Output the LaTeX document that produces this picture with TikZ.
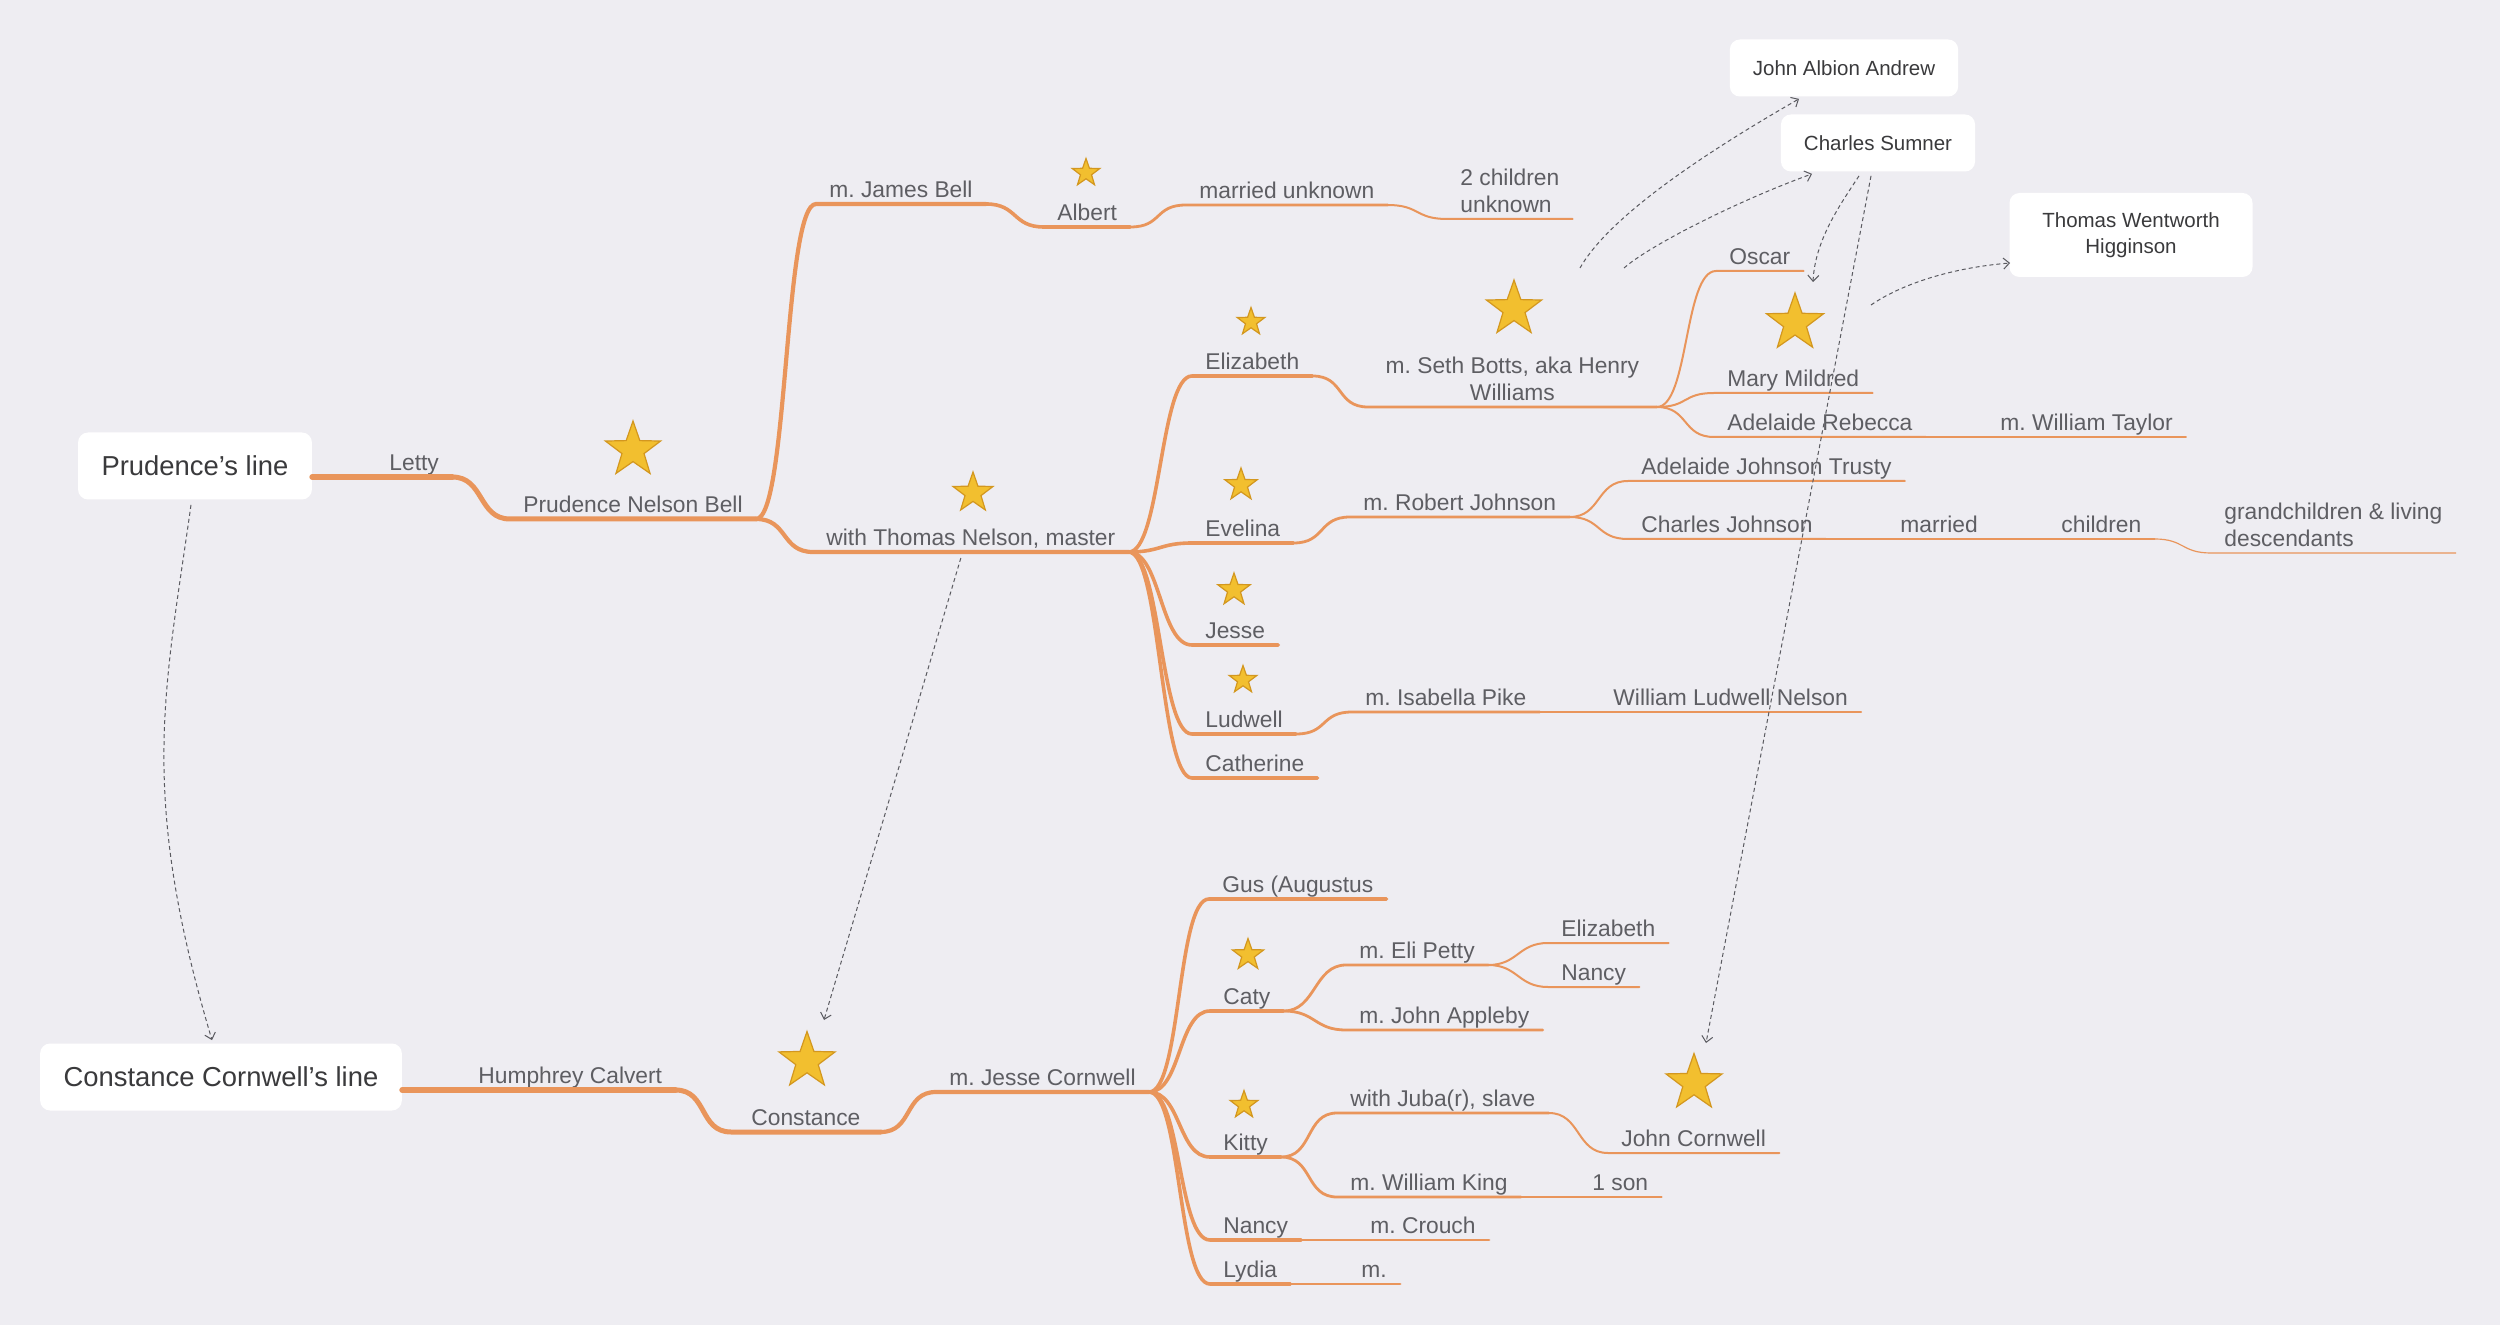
\documentclass[tikz,border=0pt]{standalone}
\usepackage{fontspec}
\setmainfont{Liberation Sans}
\usetikzlibrary{shapes.geometric,arrows.meta}
\frenchspacing

\definecolor{bgcol}{HTML}{EEEDF2}
\definecolor{branch}{HTML}{E9955B}
\definecolor{txt}{HTML}{5E5E63}
\definecolor{boxtxt}{HTML}{3A3A3C}
\definecolor{starfill}{HTML}{F2BF2F}
\definecolor{starline}{HTML}{D3971F}
\definecolor{xrefcol}{HTML}{5A5A60}

\tikzset{
  person/.style={text=txt, font=\fontsize{11.4}{13.75}\selectfont,
    inner xsep=6.5pt, inner ysep=3pt, text depth=0pt, anchor=south west},
  rootbox/.style={fill=white, rounded corners=5pt, text=boxtxt,
    font=\fontsize{13.7}{16}\selectfont, inner xsep=11.75pt, minimum height=33.5pt},
  namebox/.style={fill=white, rounded corners=5pt, text=boxtxt, align=center,
    font=\fontsize{10.25}{13}\selectfont, inner xsep=11.5pt, minimum height=28.5pt},
  starmark/.style={star, star points=5, star point ratio=2.5, inner sep=0pt,
    fill=starfill, draw=starline, line width=0.6pt},
  br/.style={draw=branch, line cap=round, line join=round},
  lvl1/.style={br, line width=3pt},
  lvl2/.style={br, line width=2.5pt},
  lvl3/.style={br, line width=2.1pt},
  lvl4/.style={br, line width=1.8pt},
  lvl5/.style={br, line width=1.4pt},
  lvl6/.style={br, line width=1pt},
  lvl7/.style={br, line width=0.8pt},
  lvl8/.style={br, line width=0.7pt},
  lvl9/.style={br, line width=0.6pt},
  xref/.style={draw=xrefcol, line width=0.5pt, dash pattern=on 2pt off 1.5pt,
    -{Straight Barb[length=3pt,width=5.5pt]}},
}

\begin{document}
\begin{tikzpicture}[x=0.5pt, y=-0.5pt]
  \fill[bgcol] (0,0) rectangle (2500,1325);
  \useasboundingbox (0,0) rectangle (2500,1325);

  % Boxes
  \node[rootbox] (prud) at (195,466) {Prudence’s line};
  \node[rootbox] (corn) at (221,1077) {Constance Cornwell’s line};
  \node[namebox] (andrew) at (1844,68) {John Albion Andrew};
  \node[namebox] (sumner) at (1878,143) {Charles Sumner};
  \node[namebox, minimum width=121.5pt, minimum height=42pt] (higg) at (2131,235) {Thomas Wentworth\\Higginson};

  % Prudence's line
  \node[person] (letty) at (376,477) {Letty};
  \node[person] (pnb) at (510,519) {Prudence Nelson Bell};
  \node[person] (jbell) at (816,204) {m. James Bell};
  \node[person] (albert) at (1044,227) {Albert};
  \node[person] (munk) at (1186,205) {married unknown};
  \node[person, align=left] (twoch) at (1447,219) {2 children\\unknown};
  \node[person] (tn) at (813,552) {with Thomas Nelson, master};
  \node[person] (eliz) at (1192,376) {Elizabeth};
  \node[person, align=center, minimum width=144pt] (seth) at (1368,407) {m. Seth Botts, aka Henry\\Williams};
  \node[person] (oscar) at (1716,271) {Oscar};
  \node[person] (mary) at (1714,393) {Mary Mildred};
  \node[person] (adreb) at (1714,437) {Adelaide Rebecca};
  \node[person] (wtaylor) at (1987,437) {m. William Taylor};
  \node[person] (evel) at (1192,543) {Evelina};
  \node[person] (rjohn) at (1350,517) {m. Robert Johnson};
  \node[person] (ajt) at (1628,481) {Adelaide Johnson Trusty};
  \node[person] (cjohn) at (1628,539) {Charles Johnson};
  \node[person] (cjmar) at (1887,539) {married};
  \node[person] (cjch) at (2048,539) {children};
  \node[person, align=left] (grand) at (2211,553) {grandchildren \& living\\descendants};
  \node[person] (jesse) at (1192,645) {Jesse};
  \node[person] (ludw) at (1192,734) {Ludwell};
  \node[person] (ipike) at (1352,712) {m. Isabella Pike};
  \node[person] (wln) at (1600,712) {William Ludwell Nelson};
  \node[person] (cath) at (1192,778) {Catherine};

  % Constance Cornwell's line
  \node[person] (humph) at (465,1090) {Humphrey Calvert};
  \node[person, minimum width=74.5pt] (cons) at (731,1132) {Constance};
  \node[person] (mjc) at (936,1092) {m. Jesse Cornwell};
  \node[person] (gus) at (1209,899) {Gus (Augustus};
  \node[person] (caty) at (1210,1011) {Caty};
  \node[person] (eli) at (1346,965) {m. Eli Petty};
  \node[person] (eliz2) at (1548,943) {Elizabeth};
  \node[person] (nancy2) at (1548,987) {Nancy};
  \node[person] (jappl) at (1346,1030) {m. John Appleby};
  \node[person] (kitty) at (1210,1157) {Kitty};
  \node[person] (juba) at (1337,1113) {with Juba(r), slave};
  \node[person] (jcorn) at (1608,1153) {John Cornwell};
  \node[person] (wking) at (1337,1197) {m. William King};
  \node[person] (oneson) at (1579,1197) {1 son};
  \node[person] (nancy) at (1210,1240) {Nancy};
  \node[person] (crouch) at (1357,1240) {m. Crouch};
  \node[person] (lydia) at (1210,1284) {Lydia};
  \node[person] (mm) at (1348,1284) {m.};

  % Stars
  \node[starmark, minimum size=29pt] (pnbstar) at (633,450) {};
  \node[starmark, minimum size=14.5pt] (albstar) at (1086,173) {};
  \node[starmark, minimum size=21pt] (tnstar) at (973,493) {};
  \node[starmark, minimum size=14.5pt] (elizstar) at (1251,322) {};
  \node[starmark, minimum size=29pt] (sethstar) at (1514,309) {};
  \node[starmark, minimum size=30pt] (marystar) at (1795,323) {};
  \node[starmark, minimum size=17pt] (evelstar) at (1241,485) {};
  \node[starmark, minimum size=17pt] (jessestar) at (1234,590) {};
  \node[starmark, minimum size=14.5pt] (ludwstar) at (1243,680) {};
  \node[starmark, minimum size=29.5pt] (consstar) at (807,1061) {};
  \node[starmark, minimum size=16.5pt] (catystar) at (1248,955) {};
  \node[starmark, minimum size=14.5pt] (kittystar) at (1244,1105) {};
  \node[starmark, minimum size=29.5pt] (jcstar) at (1694,1083) {};

  % Branches, Prudence
  \draw[lvl1] (prud.east |- letty.south) -- (letty.south west) -- (letty.south east);
  \draw[lvl2] (letty.south east) .. controls +(32,0) and +(-32,0) .. (pnb.south west) -- (pnb.south east);
  \draw[lvl3] (pnb.south east) .. controls +(32,0) and +(-32,0) .. (jbell.south west) -- (jbell.south east);
  \draw[lvl3] (pnb.south east) .. controls +(32,0) and +(-32,0) .. (tn.south west) -- (tn.south east);
  \draw[lvl4] (jbell.south east) .. controls +(32,0) and +(-32,0) .. (albert.south west) -- (albert.south east);
  \draw[lvl5] (albert.south east) .. controls +(32,0) and +(-32,0) .. (munk.south west) -- (munk.south east);
  \draw[lvl6] (munk.south east) .. controls +(32,0) and +(-32,0) .. (twoch.south west) -- (twoch.south east);
  \foreach \kid in {eliz, evel, jesse, ludw, cath}
    \draw[lvl4] (tn.south east) .. controls +(32,0) and +(-32,0) .. (\kid.south west) -- (\kid.south east);
  \draw[lvl5] (eliz.south east) .. controls +(32,0) and +(-32,0) .. (seth.south west) -- (seth.south east);
  \foreach \kid in {oscar, mary, adreb}
    \draw[lvl6] (seth.south east) .. controls +(32,0) and +(-32,0) .. (\kid.south west) -- (\kid.south east);
  \draw[lvl7] (adreb.south east) -- (wtaylor.south west) -- (wtaylor.south east);
  \draw[lvl5] (evel.south east) .. controls +(32,0) and +(-32,0) .. (rjohn.south west) -- (rjohn.south east);
  \draw[lvl6] (rjohn.south east) .. controls +(32,0) and +(-32,0) .. (ajt.south west) -- (ajt.south east);
  \draw[lvl6] (rjohn.south east) .. controls +(32,0) and +(-32,0) .. (cjohn.south west) -- (cjohn.south east);
  \draw[lvl7] (cjohn.south east) -- (cjmar.south west) -- (cjmar.south east);
  \draw[lvl8] (cjmar.south east) -- (cjch.south west) -- (cjch.south east);
  \draw[lvl9] (cjch.south east) .. controls +(30,0) and +(-30,0) .. (grand.south west) -- (grand.south east);
  \draw[lvl5] (ludw.south east) .. controls +(32,0) and +(-32,0) .. (ipike.south west) -- (ipike.south east);
  \draw[lvl6] (ipike.south east) -- (wln.south west) -- (wln.south east);

  % Branches, Constance
  \draw[lvl1] (corn.east |- humph.south) -- (humph.south west) -- (humph.south east);
  \draw[lvl2] (humph.south east) .. controls +(32,0) and +(-32,0) .. (cons.south west) -- (cons.south east);
  \draw[lvl3] (cons.south east) .. controls +(32,0) and +(-32,0) .. (mjc.south west) -- (mjc.south east);
  \foreach \kid in {gus, caty, kitty, nancy, lydia}
    \draw[lvl4] (mjc.south east) .. controls +(32,0) and +(-32,0) .. (\kid.south west) -- (\kid.south east);
  \draw[lvl5] (caty.south east) .. controls +(32,0) and +(-32,0) .. (eli.south west) -- (eli.south east);
  \draw[lvl5] (caty.south east) .. controls +(32,0) and +(-32,0) .. (jappl.south west) -- (jappl.south east);
  \draw[lvl6] (eli.south east) .. controls +(30,0) and +(-30,0) .. (eliz2.south west) -- (eliz2.south east);
  \draw[lvl6] (eli.south east) .. controls +(30,0) and +(-30,0) .. (nancy2.south west) -- (nancy2.south east);
  \draw[lvl5] (kitty.south east) .. controls +(32,0) and +(-32,0) .. (juba.south west) -- (juba.south east);
  \draw[lvl6] (juba.south east) .. controls +(32,0) and +(-32,0) .. (jcorn.south west) -- (jcorn.south east);
  \draw[lvl5] (kitty.south east) .. controls +(32,0) and +(-32,0) .. (wking.south west) -- (wking.south east);
  \draw[lvl6] (wking.south east) -- (oneson.south west) -- (oneson.south east);
  \draw[lvl5] (nancy.south east) -- (crouch.south west) -- (crouch.south east);
  \draw[lvl5] (lydia.south east) -- (mm.south west) -- (mm.south east);

  % Cross links
  \draw[xref] ([shift={(-4,5)}]prud.south) .. controls +(-26,186) and +(-74,-249) .. ([shift={(-9,-3)}]corn.north);
  \draw[xref] ([shift={(-10,6)}]tn.south) -- ([shift={(17,-41)}]consstar.center);
  \draw[xref] ([shift={(66,-41)}]sethstar.center) .. controls +(30,-53) and +(-89,51) .. ([shift={(-45,2)}]andrew.south);
  \draw[xref] ([shift={(110,-41)}]sethstar.center) .. controls +(26,-23) and +(-72,26) .. ([shift={(-66,2)}]sumner.south);
  \draw[xref] ([shift={(-19,4)}]sumner.south) .. controls +(-19,29) and +(2,-42) .. ([shift={(18,-41)}]marystar.center);
  \draw[xref] ([shift={(-7,4)}]sumner.south) -- ([shift={(12,-40)}]jcstar.center);
  \draw[xref] ([shift={(76,-18)}]marystar.center) .. controls +(29,-20) and +(-61,5) .. ([shift={(1,28)}]higg.west);
\end{tikzpicture}
\end{document}
